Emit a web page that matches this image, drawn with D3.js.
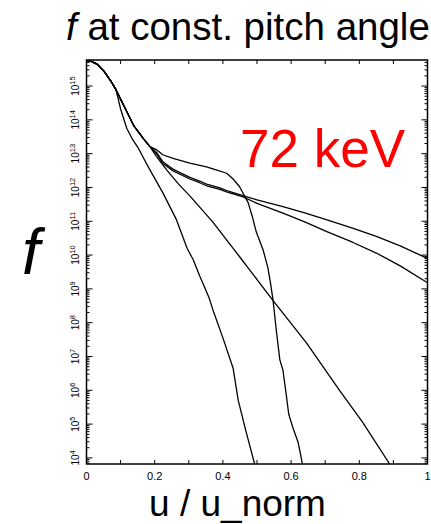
<!DOCTYPE html>
<html>
<head>
<meta charset="utf-8">
<script src="https://cdn.jsdelivr.net/npm/d3@7.9.0/dist/d3.min.js"></script>
<style>
  body { margin: 0; background: #fff; }
  svg { display: block; font-family: "Liberation Sans", Arial, sans-serif; }
</style>
</head>
<body>
<svg id="chart" width="431" height="524"></svg>
<script>
// curves as [u / u_norm, log10 f]
const start = [[0, 15.76], [0.016, 15.72], [0.032, 15.64], [0.051, 15.44], [0.071, 15.15], [0.086, 14.90]];
const bundle = [[0.098, 14.65], [0.110, 14.41], [0.139, 13.82], [0.157, 13.58], [0.168, 13.43], [0.186, 13.21]];

const curveA = start.concat([
  [0.093, 14.62], [0.100, 14.32], [0.118, 13.75], [0.135, 13.42], [0.151, 13.18], [0.173, 12.76],
  [0.186, 12.52], [0.224, 11.84], [0.264, 11.04], [0.295, 10.20], [0.313, 9.86], [0.332, 9.38],
  [0.342, 9.15], [0.360, 8.72], [0.370, 8.40], [0.400, 7.55], [0.430, 6.65], [0.445, 5.70],
  [0.466, 4.85], [0.493, 3.82]
]);

const curveB = start.concat(bundle, [
  [0.206, 13.11], [0.225, 12.96], [0.254, 12.86], [0.303, 12.72], [0.352, 12.61], [0.380, 12.52],
  [0.411, 12.42], [0.430, 12.25], [0.449, 12.02], [0.459, 11.83], [0.474, 11.55], [0.486, 11.15],
  [0.498, 10.68], [0.518, 10.15], [0.532, 9.62], [0.540, 9.15], [0.547, 8.67], [0.557, 7.74],
  [0.567, 6.90], [0.576, 6.60], [0.586, 5.85], [0.593, 5.30], [0.605, 4.90], [0.620, 4.48],
  [0.628, 4.10], [0.633, 3.82]
]);

const curveC = start.concat(bundle, [
  [0.205, 12.92], [0.235, 12.52], [0.270, 12.10], [0.303, 11.75], [0.370, 10.98], [0.449, 9.95],
  [0.546, 8.67], [0.645, 7.40], [0.742, 6.00], [0.810, 5.05], [0.889, 3.82]
]);

const curveD = start.concat(bundle, [
  [0.206, 13.03], [0.224, 12.76], [0.254, 12.54], [0.274, 12.44], [0.303, 12.30], [0.332, 12.19],
  [0.352, 12.10], [0.391, 11.99], [0.411, 11.91], [0.430, 11.85], [0.459, 11.76], [0.500, 11.63],
  [0.576, 11.43], [0.640, 11.25], [0.703, 11.05], [0.780, 10.80], [0.850, 10.55], [0.920, 10.27],
  [1.0, 9.90]
]);

const curveE = start.concat(bundle, [
  [0.206, 12.99], [0.224, 12.71], [0.254, 12.49], [0.274, 12.39], [0.303, 12.25], [0.332, 12.14],
  [0.352, 12.05], [0.391, 11.94], [0.411, 11.87], [0.430, 11.81], [0.459, 11.72], [0.500, 11.53],
  [0.576, 11.24], [0.640, 10.98], [0.703, 10.70], [0.780, 10.38], [0.850, 10.06], [0.920, 9.68],
  [1.0, 9.18]
]);

const curves = [curveA, curveB, curveC, curveD, curveE];

const xTicks = [0, 0.1, 0.2, 0.3, 0.4, 0.5, 0.6, 0.7, 0.8, 0.9, 1];
const xLabels = ['0', '0.2', '0.4', '0.6', '0.8', '1'];
const yExponents = [4, 5, 6, 7, 8, 9, 10, 11, 12, 13, 14, 15];
const yDomainExp = [3.82, 15.77];

const svg = d3.select('#chart');
const plotL = 86.5, plotR = 427.5, plotT = 60, plotB = 464;

const x = d3.scaleLinear().domain([0, 1]).range([plotL, plotR]);
const y = d3.scaleLog().domain(yDomainExp.map(e => Math.pow(10, e))).range([plotB, plotT]);

svg.append('clipPath').attr('id', 'plot-clip')
  .append('rect')
  .attr('x', plotL).attr('y', plotT)
  .attr('width', plotR - plotL).attr('height', plotB - plotT);

// curves
const line = d3.line()
  .x(d => x(d[0]))
  .y(d => y(Math.pow(10, d[1])));

svg.append('g').attr('clip-path', 'url(#plot-clip)')
  .selectAll('path')
  .data(curves)
  .join('path')
  .attr('d', line)
  .attr('fill', 'none')
  .attr('stroke', '#000')
  .attr('stroke-width', 1.3)
  .attr('stroke-linejoin', 'round');

// log ticks: majors on decades, minors on 2..9
const logTicks = [];
yExponents.concat([3]).forEach(e => {
  for (let m = 1; m <= 9; m++) {
    const v = m * Math.pow(10, e);
    if (v >= y.domain()[0] && v <= y.domain()[1]) logTicks.push({ v, major: m === 1 });
  }
});

const ticks = svg.append('g').attr('stroke', '#000').attr('stroke-width', 1);
logTicks.forEach(t => {
  const len = t.major ? 6 : 3;
  ticks.append('line').attr('x1', plotL).attr('x2', plotL + len).attr('y1', y(t.v)).attr('y2', y(t.v));
  ticks.append('line').attr('x1', plotR).attr('x2', plotR - len).attr('y1', y(t.v)).attr('y2', y(t.v));
});
xTicks.forEach(v => {
  ticks.append('line').attr('x1', x(v)).attr('x2', x(v)).attr('y1', plotB).attr('y2', plotB - 4);
  ticks.append('line').attr('x1', x(v)).attr('x2', x(v)).attr('y1', plotT).attr('y2', plotT + 4);
});

// frame
svg.append('rect')
  .attr('x', plotL).attr('y', plotT)
  .attr('width', plotR - plotL).attr('height', plotB - plotT)
  .attr('fill', 'none').attr('stroke', '#000').attr('stroke-width', 1.5);

// x tick labels
svg.append('g').selectAll('text')
  .data(xLabels)
  .join('text')
  .attr('x', d => x(+d))
  .attr('y', 480)
  .attr('text-anchor', 'middle')
  .attr('font-size', 11)
  .text(d => d);

// y tick labels, rotated, 10^n
const yl = svg.append('g').selectAll('text')
  .data(yExponents)
  .join('text')
  .attr('transform', d => `translate(79,${y(Math.pow(10, d))}) rotate(-90)`)
  .attr('text-anchor', 'middle')
  .attr('font-size', 10);
yl.append('tspan').text('10');
yl.append('tspan').attr('dy', -4).attr('font-size', 7.5).text(d => d);

// title
const title = svg.append('text').attr('x', 66).attr('y', 40).attr('font-size', 38.5);
title.append('tspan').attr('font-style', 'italic').text('f');
title.append('tspan').text(' at const. pitch angle');

// annotation
svg.append('text')
  .attr('x', 240).attr('y', 167)
  .attr('font-size', 53)
  .attr('fill', '#ff0000')
  .text('72 keV');

// axis labels
svg.append('text')
  .attr('x', 22).attr('y', 274)
  .attr('font-size', 64)
  .attr('font-style', 'italic')
  .text('f');

svg.append('text')
  .attr('x', 237.5).attr('y', 516)
  .attr('text-anchor', 'middle')
  .attr('font-size', 37)
  .text('u / u_norm');
</script>
</body>
</html>
